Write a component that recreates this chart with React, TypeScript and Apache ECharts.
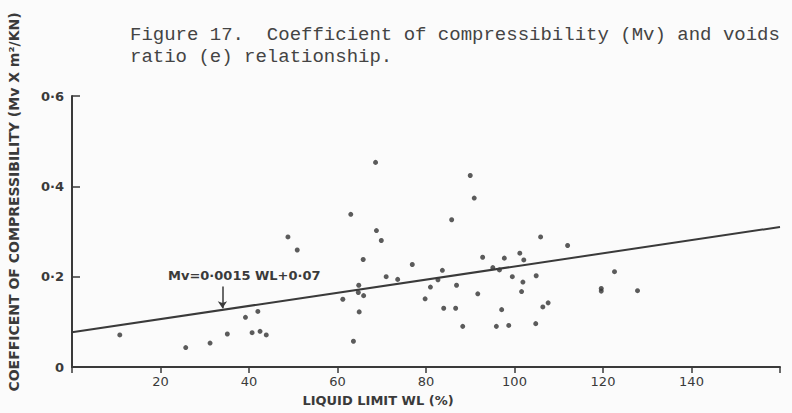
import React, { useEffect, useRef } from "react";
import * as echarts from "echarts";

const titleLines = [
  "Figure 17.  Coefficient of compressibility (Mv) and voids",
  "ratio (e) relationship.",
];
const yAxisTitle = "COEFFICENT OF COMPRESSIBILITY (Mv X m²/KN)";
const xAxisTitle = "LIQUID LIMIT WL (%)";
const equationText = "Mv=0·0015 WL+0·07";

// Liquid limit (%) values
const liquidLimit = [
  10.8, 25.7, 31.2, 35.1, 39.2, 42.0, 40.7, 42.5, 43.9, 48.8, 50.9,
  68.6, 63.0, 68.8, 69.9, 65.8, 76.9, 71.0, 73.6, 64.8, 64.7, 65.9, 61.2, 64.9, 63.6,
  90.0, 90.9, 85.8, 83.7, 82.7, 81.0, 86.9, 79.8, 84.0, 86.7, 88.3, 91.7,
  92.8, 95.1, 96.6, 97.7, 101.2, 102.1, 99.5, 101.9, 101.6, 104.9, 105.9,
  97.1, 95.9, 98.7, 104.8, 106.4, 107.6, 112.0, 122.6, 119.6, 119.6, 127.8,
];
// Coefficient of compressibility values
const compressibility = [
  0.071, 0.043, 0.053, 0.073, 0.110, 0.123, 0.076, 0.079, 0.071, 0.288, 0.259,
  0.453, 0.338, 0.302, 0.280, 0.238, 0.227, 0.200, 0.194, 0.181, 0.165, 0.158, 0.150, 0.122, 0.057,
  0.424, 0.374, 0.326, 0.214, 0.193, 0.177, 0.181, 0.151, 0.130, 0.130, 0.090, 0.162,
  0.243, 0.220, 0.215, 0.241, 0.252, 0.237, 0.200, 0.188, 0.167, 0.202, 0.288,
  0.127, 0.090, 0.092, 0.096, 0.133, 0.142, 0.269, 0.211, 0.174, 0.168, 0.169,
];
// Regression line end points [liquid limit, Mv]
const trendX = [0, 160];
const trendY = [0.077, 0.31];
// Arrow pointing from the equation label to the line
const arrowX = 34;
const arrowY = [0.178, 0.13];

const xTicks = { min: 0, max: 160, interval: 20 };
const yTicks = { min: 0, max: 0.6, interval: 0.2 };

export default function App() {
  const ref = useRef<HTMLDivElement>(null);
  useEffect(() => {
    if (!ref.current) return;
    const chart = echarts.init(ref.current, undefined, { renderer: "svg" });
    const points = liquidLimit.map((x, i) => [x, compressibility[i]]);
    const trend = trendX.map((x, i) => [x, trendY[i]]);
    const axisColor = "#3a3a3a";
    const labelFont = "'DejaVu Sans', sans-serif";
    chart.setOption({
      animation: false,
      backgroundColor: "#fbfbfb",
      grid: { left: 72, right: 12, top: 96, bottom: 46 },
      xAxis: {
        type: "value",
        min: xTicks.min,
        max: xTicks.max,
        interval: xTicks.interval,
        splitLine: { show: false },
        axisLine: { lineStyle: { color: axisColor, width: 2 } },
        axisTick: { show: true, inside: false, length: 6, lineStyle: { color: axisColor, width: 1.5 } },
        axisLabel: {
          color: "#3a3a3a",
          fontFamily: labelFont,
          fontSize: 13,
          margin: 8,
          formatter: (v: number) => (v === 0 || v === 160 ? "" : String(v)),
        },
      },
      yAxis: {
        type: "value",
        min: yTicks.min,
        max: yTicks.max,
        interval: yTicks.interval,
        splitLine: { show: false },
        axisLine: { show: true, lineStyle: { color: axisColor, width: 2 } },
        axisTick: { show: true, inside: true, length: 8, lineStyle: { color: axisColor, width: 1.5 } },
        axisLabel: {
          color: "#3a3a3a",
          fontFamily: labelFont,
          fontWeight: "bold",
          fontSize: 13,
          margin: 8,
          formatter: (v: number) => (v === 0 ? "0" : v.toFixed(1).replace(".", "·")),
        },
      },
      series: [
        {
          type: "line",
          data: trend,
          symbol: "none",
          lineStyle: { color: "#3a3a3a", width: 2 },
          markLine: {
            silent: true,
            symbol: ["none", "arrow"],
            symbolSize: 7,
            lineStyle: { color: "#3a3a3a", width: 1.5, type: "solid" },
            label: { show: false },
            data: [[{ coord: [arrowX, arrowY[0]] }, { coord: [arrowX, arrowY[1]] }]],
          },
        },
        {
          type: "scatter",
          data: points,
          symbol: "circle",
          symbolSize: 5,
          itemStyle: { color: "#333333" },
        },
      ],
      graphic: [
        {
          type: "text",
          left: 130,
          top: 24,
          style: {
            text: titleLines.join("\n"),
            font: "19px 'Liberation Mono', monospace",
            fill: "#444444",
            lineHeight: 22,
          },
        },
        {
          type: "text",
          x: 14,
          y: 202,
          rotation: Math.PI / 2,
          style: {
            text: yAxisTitle,
            font: "bold 14px 'DejaVu Sans', sans-serif",
            fill: "#3a3a3a",
            align: "center",
            verticalAlign: "middle",
          },
        },
        {
          type: "text",
          x: 378,
          y: 400,
          style: {
            text: xAxisTitle,
            font: "bold 13px 'DejaVu Sans', sans-serif",
            fill: "#3a3a3a",
            align: "center",
            verticalAlign: "middle",
          },
        },
        {
          type: "text",
          left: 168,
          top: 269,
          style: {
            text: equationText,
            font: "bold 13px 'DejaVu Sans', sans-serif",
            fill: "#3a3a3a",
          },
        },
      ],
    });
    return () => chart.dispose();
  }, []);
  return (
    <div
      ref={ref}
      style={{ position: "absolute", left: 0, top: 0, width: 792, height: 413 }}
    />
  );
}
